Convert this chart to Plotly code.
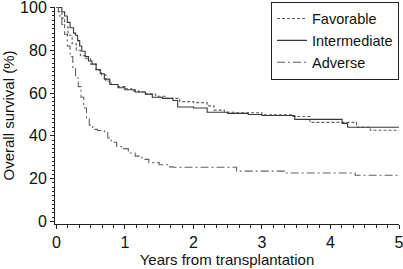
import plotly.graph_objects as go

# Favorable (dashed)
fav_t = [0, 0.03, 0.08, 0.12, 0.17, 0.23, 0.29, 0.35, 0.42, 0.5, 0.58, 0.66, 0.72, 0.8, 0.9, 1.0,
         1.1, 1.2, 1.3, 1.45, 1.6, 1.8, 2.0, 2.2, 2.3, 2.45, 2.6, 3.0, 3.45, 3.7, 4.38, 4.58, 5.0]
fav_s = [100, 98, 95, 91, 87, 83, 80, 77.5, 76, 73.5, 70.5, 68.5, 65.5, 64, 63, 62,
         61, 60.5, 59.5, 58.5, 57.5, 56, 55.5, 54, 52, 51, 50.8, 49.8, 49, 46.3, 44, 42.6, 42.6]

# Intermediate (solid)
int_t = [0, 0.05, 0.08, 0.12, 0.16, 0.2, 0.25, 0.28, 0.31, 0.34, 0.37, 0.42, 0.47, 0.52, 0.58,
         0.64, 0.7, 0.78, 0.9, 1.0, 1.15, 1.3, 1.4, 1.55, 1.7, 1.77, 2.0, 2.2, 2.5, 2.8, 3.0,
         3.48, 4.17, 4.25, 5.0]
int_s = [100, 100, 98, 96, 93, 90.5, 88, 87, 84.5, 82, 79.5, 77, 75, 73.5, 71,
         69, 66.5, 64, 62.5, 61.5, 60.5, 59.5, 58, 57.5, 56.5, 53.5, 53, 51, 50.5, 50, 49.5,
         47.7, 45.8, 44, 44]

# Adverse (long dash-dot)
adv_t = [0, 0.03, 0.05, 0.08, 0.12, 0.16, 0.2, 0.24, 0.28, 0.32, 0.36, 0.4, 0.44, 0.48, 0.53,
         0.6, 0.7, 0.75, 0.8, 0.88, 0.95, 1.05, 1.15, 1.25, 1.35, 1.5, 1.65, 1.7, 2.63, 3.33,
         4.36, 5.0]
adv_s = [100, 98, 96, 92, 87.5, 82, 77, 72, 67, 63, 58, 53, 48, 45, 43,
         42.5, 41.5, 39, 37, 35, 34, 32, 30.5, 29, 27.5, 26.5, 25.5, 25.3, 23.5, 22.6,
         21.6, 21.6]

x_ticks = [0, 1, 2, 3, 4, 5]
y_ticks = [0, 20, 40, 60, 80, 100]

col = "#606060"
fig = go.Figure()
fig.add_trace(go.Scatter(x=fav_t, y=fav_s, mode="lines", name="Favorable",
                         line=dict(color=col, width=1.1, dash="3px,2px", shape="hv")))
fig.add_trace(go.Scatter(x=int_t, y=int_s, mode="lines", name="Intermediate",
                         line=dict(color="#383838", width=1.1, shape="hv")))
fig.add_trace(go.Scatter(x=adv_t, y=adv_s, mode="lines", name="Adverse",
                         line=dict(color=col, width=1.1, dash="8px,3px,2px,3px", shape="hv")))

font = "Liberation Sans, Arial, sans-serif"
fig.update_layout(
    width=403, height=269,
    margin=dict(l=55, r=4, t=7, b=45, autoexpand=False),
    paper_bgcolor="white", plot_bgcolor="white",
    font=dict(family=font, size=14, color="#111"),
    showlegend=True,
    legend=dict(x=1, xanchor="right", y=1.025, yanchor="top",
                bordercolor="#222", borderwidth=1, bgcolor="white",
                font=dict(size=14.5), tracegroupgap=0, itemwidth=30),
    xaxis=dict(range=[-0.02, 5.0], tickvals=x_ticks, showline=True, linecolor="#222",
               linewidth=1, ticks="outside", ticklen=4, tickcolor="#222",
               showgrid=False, zeroline=False, tickfont=dict(size=16),
               ticklabeloverflow="allow",
               minor=dict(dtick=1/6, ticks="outside", ticklen=3, tickcolor="#222", showgrid=False),
               title=dict(text="Years from transplantation", font=dict(size=15), standoff=3)),
    yaxis=dict(range=[-1.2, 100.2], tickvals=y_ticks, showline=True, linecolor="#222",
               linewidth=1, ticks="outside", ticklen=4, tickcolor="#222",
               showgrid=False, zeroline=False, tickfont=dict(size=16),
               ticklabeloverflow="allow",
               minor=dict(dtick=2, ticks="outside", ticklen=2, tickcolor="#222", showgrid=False),
               title=dict(text="Overall survival (%)", font=dict(size=15), standoff=12)),
)

fig.write_html("out.html", config={"displayModeBar": False},
               post_script="document.body.style.margin='0';document.body.style.overflow='hidden';")
